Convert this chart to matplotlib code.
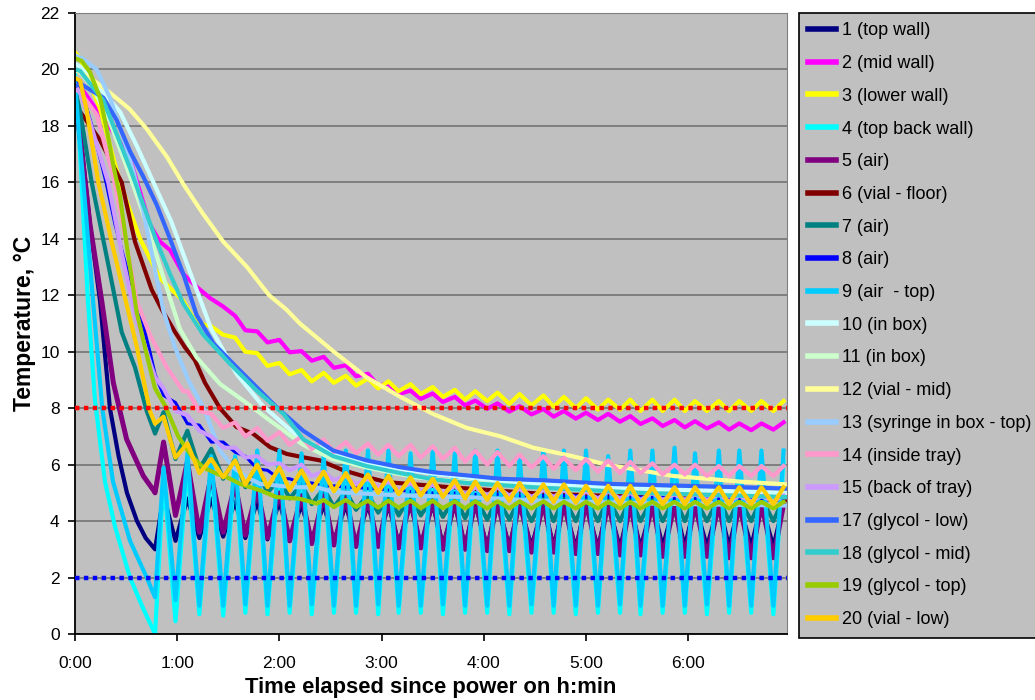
import matplotlib
matplotlib.use("Agg")
import matplotlib.pyplot as plt

plt.rcParams['font.family'] = ['Liberation Sans', 'DejaVu Sans']

# ==========================
# DATA (time in minutes, temperature in degC)
# ==========================

# times of the compressor cycle highs / lows, shared by the cycling probes
peak_t = [52, 66, 80, 94, 107, 120, 133, 146, 159, 172, 184, 197, 210, 223, 235,
          248, 261, 275, 287, 300, 313, 326, 339, 352, 364, 378, 390, 403, 416]
trough_t = [47, 59, 73, 87, 100, 113, 126, 139, 152, 165, 178, 190, 203, 216, 229,
            242, 255, 268, 281, 294, 307, 320, 332, 345, 358, 371, 384, 397, 410]

labels = ["1 (top wall)", "2 (mid wall)", "3 (lower wall)", "4 (top back wall)",
          "5 (air)", "6 (vial - floor)", "7 (air)", "8 (air)", "9 (air  - top)",
          "10 (in box)", "11 (in box)", "12 (vial - mid)", "13 (syringe in box - top)",
          "14 (inside tray)", "15 (back of tray)", "17 (glycol - low)",
          "18 (glycol - mid)", "19 (glycol - top)", "20 (vial - low)"]

colors = ["#000080", "#FF00FF", "#FFFF00", "#00FFFF", "#800080", "#800000",
          "#008080", "#0000FF", "#00CCFF", "#CCFFFF", "#CCFFCC", "#FFFF99",
          "#99CCFF", "#FF99CC", "#CC99FF", "#3366FF", "#33CCCC", "#99CC00",
          "#FFCC00"]

# 1 (top wall)
s1_t = [0, 3, 8.8, 14.7, 20.5, 25.6, 30.5, 36.4, 41.5, 47]
s1_v = [19.4, 17.8, 14.5, 11.8, 8.0, 6.3, 5.0, 4.0, 3.4, 3.0]
s1_pk = [4.9, 4.8, 4.8, 4.7, 4.7, 4.7, 4.6, 4.6, 4.6, 4.6, 4.6, 4.6, 4.6, 4.6, 4.6,
         4.6, 4.6, 4.6, 4.6, 4.6, 4.6, 4.6, 4.6, 4.6, 4.6, 4.6, 4.6, 4.6, 4.6]
s1_tr = [3.0, 3.3, 3.4, 3.45, 3.4, 3.35, 3.3, 3.3, 3.25, 3.2, 3.2, 3.2, 3.15, 3.15, 3.1,
         3.1, 3.1, 3.1, 3.1, 3.05, 3.05, 3.05, 3.05, 3.1, 3.1, 3.1, 3.1, 3.1, 3.1]

# 2 (mid wall)
s2_t = [0, 3, 10, 20, 32, 44, 49.9, 55.8, 63.6, 71.4, 79.3, 87]
s2_v = [19.6, 19.4, 18.8, 18.0, 16.9, 14.5, 13.9, 13.6, 12.75, 12.3, 11.9, 11.6]
s2_pk = [13.8, 12.4, 11.9, 11.27, 10.72, 10.42, 10.02, 9.82, 9.52, 9.22, 8.87, 8.62,
         8.52, 8.4, 8.27, 8.17, 8.07, 7.97, 7.9, 7.84, 7.8, 7.72, 7.64, 7.58, 7.54,
         7.5, 7.46, 7.46, 7.5]
s2_tr = [14.4, 13.2, 12.0, 11.5, 10.76, 10.33, 9.98, 9.68, 9.43, 9.13, 8.8, 8.5,
         8.33, 8.22, 8.1, 7.98, 7.88, 7.78, 7.7, 7.63, 7.58, 7.52, 7.44, 7.37, 7.32,
         7.28, 7.24, 7.22, 7.24]

# 3 (lower wall)
s3_t = [0, 3, 14.7, 26.4, 38.2, 49.9, 63.6, 69.4]
s3_v = [20.6, 20.4, 18.6, 16.0, 14.0, 12.6, 11.8, 11.2]
s3_pk = [12.4, 11.6, 10.9, 10.5, 9.95, 9.6, 9.35, 9.25, 9.15, 9.05, 8.95, 8.85, 8.75,
         8.65, 8.6, 8.55, 8.5, 8.45, 8.4, 8.35, 8.3, 8.3, 8.3, 8.3, 8.25, 8.25, 8.25,
         8.25, 8.25]
s3_tr = [12.9, 12.0, 11.0, 10.6, 10.0, 9.5, 9.2, 8.95, 8.9, 8.8, 8.7, 8.6, 8.5, 8.4,
         8.3, 8.25, 8.15, 8.1, 8.05, 8.0, 7.95, 7.95, 7.9, 7.9, 7.9, 7.9, 7.9, 7.9, 7.9]

# 4 (top back wall)
s4_t = [0, 3, 7.6, 11.7, 17.6, 23.5, 32.3, 39.3, 47]
s4_v = [19.8, 17.0, 11.8, 8.3, 5.4, 3.8, 2.0, 1.0, 0.0]
s4_pk = [5.6, 6.0, 5.9, 5.9, 6.1, 6.1, 6.0, 5.9, 6.1, 6.1, 6.1, 6.0, 6.1, 6.0, 6.1,
         6.1, 5.9, 6.1, 6.1, 6.1, 5.9, 6.1, 6.1, 6.2, 6.0, 6.1, 6.1, 6.1, 6.1]
s4_tr = [0.0, 0.45, 0.7, 0.65, 0.75, 0.7, 0.75, 0.7, 0.75, 0.75, 0.7, 0.75, 0.75, 0.7,
         0.75, 0.75, 0.7, 0.75, 0.75, 0.7, 0.75, 0.75, 0.7, 0.75, 0.75, 0.7, 0.75,
         0.75, 0.7]

# 5 (air)
s5_t = [0, 3, 8.8, 15.7, 22.5, 30.3, 40.1, 46]
s5_v = [19.0, 17.6, 14.5, 11.8, 8.9, 6.9, 5.6, 5.1]
s5_pk = [6.8, 6.1, 5.6, 5.3, 5.1, 5.0, 4.9, 4.9, 4.85, 4.8, 4.8, 4.75, 4.75, 4.7, 4.7,
         4.7, 4.7, 4.65, 4.65, 4.65, 4.65, 4.6, 4.6, 4.6, 4.6, 4.6, 4.6, 4.6, 4.6]
s5_tr = [5.0, 4.2, 3.6, 3.6, 3.5, 3.4, 3.3, 3.2, 3.15, 3.1, 3.1, 3.05, 3.05, 3.0, 3.0,
         2.95, 2.95, 2.9, 2.9, 2.85, 2.85, 2.8, 2.8, 2.75, 2.75, 2.75, 2.7, 2.7, 2.7]

# 6 (vial - floor)
s6_t = [0, 3, 14.7, 27.4, 35.2, 45, 50.9, 58.7, 64.6, 70.4, 76.3, 85.1, 94.9, 104.7,
        114.5, 124.3, 134, 143.8, 157.5, 171.2, 183, 220, 273, 337.5, 418]
s6_v = [18.6, 18.5, 17.5, 16.0, 13.9, 12.2, 11.5, 10.7, 10.15, 9.7, 8.9, 8.0, 7.33,
        7.09, 6.62, 6.38, 6.26, 6.15, 5.8, 5.56, 5.38, 5.2, 4.97, 4.85, 4.75]

# 7 (air)
s7_t = [0, 3, 9.8, 19.5, 27.4, 35.2, 42.1, 47]
s7_v = [19.3, 18.5, 16.0, 13.1, 10.7, 9.45, 7.9, 7.1]
s7_pk = [7.86, 7.2, 6.56, 6.2, 5.8, 5.5, 5.3, 5.15, 5.05, 4.95, 4.9, 4.9, 4.85, 4.85,
         4.85, 4.8, 4.8, 4.8, 4.8, 4.8, 4.8, 4.8, 4.8, 4.8, 4.8, 4.8, 4.8, 4.8, 4.8]
s7_tr = [7.1, 6.2, 5.85, 5.5, 5.2, 5.0, 4.8, 4.6, 4.5, 4.4, 4.3, 4.2, 4.2, 4.15, 4.1,
         4.05, 4.05, 4.0, 4.0, 4.0, 4.0, 4.0, 4.0, 4.0, 4.0, 4.0, 4.0, 4.0, 4.0]

# 8 (air)
s8_t = [0, 3, 10, 18.2, 23.5, 31.3, 37.2, 44]
s8_v = [19.6, 19.4, 18.0, 16.0, 14.5, 12.75, 11.6, 10.0]
s8_pk = [8.45, 7.45, 6.8, 6.44, 5.85, 5.5, 5.35, 5.25, 5.2, 5.15, 5.1, 5.05, 5.0, 5.0,
         4.95, 4.95, 4.9, 4.9, 4.9, 4.85, 4.85, 4.85, 4.85, 4.8, 4.8, 4.8, 4.8, 4.8, 4.8]
s8_tr = [9.2, 8.2, 7.4, 6.8, 6.3, 5.8, 5.5, 5.35, 5.25, 5.2, 5.15, 5.1, 5.05, 5.0, 5.0,
         4.95, 4.95, 4.9, 4.9, 4.9, 4.85, 4.85, 4.85, 4.85, 4.8, 4.8, 4.8, 4.8, 4.8]

# 9 (air - top)
s9_t = [0, 2, 4.9, 10.6, 16, 22.3, 32.3, 42.1]
s9_v = [19.5, 18.0, 16.0, 11.8, 8.0, 5.4, 3.3, 2.0]
s9_pk = [5.9, 6.4, 6.3, 6.3, 6.5, 6.5, 6.4, 6.3, 6.5, 6.5, 6.5, 6.4, 6.5, 6.4, 6.5,
         6.5, 6.3, 6.5, 6.5, 6.5, 6.3, 6.5, 6.5, 6.6, 6.4, 6.5, 6.5, 6.5, 6.5]
s9_tr = [1.3, 1.2, 1.0, 1.0, 1.05, 1.0, 1.0, 1.05, 1.0, 1.0, 1.05, 1.0, 1.0, 1.05, 1.0,
         1.0, 1.0, 1.05, 1.0, 1.0, 1.0, 1.05, 1.0, 1.0, 1.0, 1.05, 1.0, 1.0, 1.0]

# 10 (in box)
s10_t = [0, 3, 15, 26.4, 36.2, 46.8, 56.6, 66.4, 80, 95, 110, 125, 132, 151, 171, 191,
         210, 240, 270, 330, 418]
s10_v = [20.2, 20.1, 19.3, 18.5, 17.3, 15.9, 14.6, 13.0, 10.8, 9.2, 8.1, 7.3, 6.95,
         6.4, 6.05, 5.85, 5.68, 5.48, 5.33, 5.15, 5.0]

# 11 (in box)
s11_t = [0, 3, 10, 20, 30, 40, 50, 61.6, 71.4, 85.1, 98.8, 114.5, 134, 151, 171, 200,
         230, 270, 330, 418]
s11_v = [20.0, 19.9, 19.4, 18.2, 16.6, 14.9, 13.0, 10.8, 9.8, 8.86, 8.27, 7.56, 6.7,
         6.2, 5.9, 5.55, 5.38, 5.2, 5.0, 4.85]

# 12 (vial - mid)
s12_t = [0, 9, 20, 32, 42, 54, 64, 75, 87, 101, 114, 124, 132, 152, 171, 191, 210, 230,
         250, 269, 292, 312, 332, 351, 371, 390, 418]
s12_v = [20.0, 19.7, 19.2, 18.6, 17.9, 16.9, 15.9, 14.9, 13.9, 13.0, 12.0, 11.5, 11.0,
         10.0, 9.1, 8.4, 7.8, 7.3, 7.0, 6.6, 6.3, 6.0, 5.8, 5.6, 5.5, 5.4, 5.3]

# 13 (syringe in box - top)
s13_t = [0, 4, 12.7, 20.5, 28.4, 34.2, 40.1, 44, 48, 51.9, 58.7, 66.5, 76.3, 85.1,
         92.9, 100.8, 108.6, 128.1, 141.9, 151.6, 190.8, 229.9, 269, 340, 418]
s13_v = [20.5, 20.4, 20.0, 19.0, 17.6, 16.4, 15.0, 13.8, 12.6, 11.45, 10.15, 9.0, 7.9,
         6.5, 5.9, 5.56, 5.32, 5.2, 5.2, 5.03, 4.91, 4.85, 4.73, 4.62, 4.55]

# 14 (inside tray)
s14_t = [0, 3, 12.7, 22.5, 30.3, 36.2, 44, 53.8, 63.6]
s14_v = [19.3, 19.2, 18.4, 16.2, 13.8, 11.8, 10.6, 9.45, 8.6]
s14_pk = [9.8, 8.6, 7.8, 7.5, 7.3, 7.15, 7.0, 6.9, 6.8, 6.75, 6.7, 6.7, 6.65, 6.6, 6.5,
          6.45, 6.35, 6.3, 6.25, 6.2, 6.15, 6.1, 6.05, 6.0, 6.0, 5.95, 5.95, 5.95, 5.95]
s14_tr = [10.2, 9.0, 7.9, 7.3, 7.0, 6.85, 6.7, 6.55, 6.45, 6.4, 6.35, 6.3, 6.25, 6.2,
          6.1, 6.0, 5.95, 5.9, 5.85, 5.8, 5.75, 5.7, 5.7, 5.65, 5.65, 5.6, 5.6, 5.6, 5.6]

# 15 (back of tray)
s15_t = [0, 3, 8, 19.5, 27.4, 35.2, 45]
s15_v = [19.4, 19.2, 18.3, 16.0, 13.5, 11.3, 9.45]
s15_pk = [8.7, 7.75, 7.0, 6.6, 6.3, 6.05, 6.0, 5.75, 5.6, 5.5, 5.4, 5.35, 5.3, 5.25,
          5.2, 5.2, 5.15, 5.1, 5.1, 5.05, 5.05, 5.0, 5.0, 4.95, 4.95, 4.95, 4.9, 4.9, 4.9]
s15_tr = [9.1, 7.9, 7.2, 6.6, 6.25, 6.0, 5.8, 5.6, 5.45, 5.3, 5.2, 5.1, 5.05, 5.0, 4.95,
          4.9, 4.9, 4.85, 4.85, 4.8, 4.8, 4.8, 4.75, 4.75, 4.75, 4.75, 4.7, 4.7, 4.7]

# 17 (glycol - low)
s17_t = [0, 3, 16.6, 24.5, 32.3, 40.1, 48, 55.8, 63.6, 71.4, 81.2, 94.9, 106.7, 118.4,
         134, 151.6, 171.2, 190.8, 210.3, 229.9, 249.5, 276.9, 312.1, 351.2, 390.3, 418]
s17_v = [19.4, 19.5, 19.0, 18.2, 17.1, 16.2, 15.2, 14.0, 12.75, 11.3, 10.3, 9.45, 8.74,
         8.03, 7.2, 6.5, 6.15, 5.91, 5.73, 5.62, 5.5, 5.44, 5.32, 5.26, 5.2, 5.15]

# 18 (glycol - mid)
s18_t = [0, 3, 16.6, 24.5, 32.3, 40.1, 48, 55.8, 63.6, 75.3, 91, 106.7, 122.4, 134,
         151.6, 171.2, 190.8, 210.3, 229.9, 269, 331.6, 418]
s18_v = [20.0, 19.95, 18.9, 17.7, 16.5, 15.2, 13.9, 12.75, 11.7, 10.6, 9.57, 8.62, 7.8,
         6.9, 6.3, 5.95, 5.7, 5.48, 5.35, 5.2, 5.0, 4.85]

# 19 (glycol - top)
s19_t = [0, 4, 8.8, 14.7, 18.6, 22.5, 26.4, 30.3, 33.3, 36.2, 42.1, 47, 52.8, 60.6,
         68.5, 75.3, 83.2, 89, 96.9, 108.6, 118.4, 132.1, 141.9]
s19_v = [20.4, 20.3, 19.9, 19.0, 17.9, 16.6, 15.5, 13.8, 12.6, 11.4, 9.9, 8.7, 8.1, 7.0,
         6.3, 5.9, 5.68, 5.56, 5.32, 5.09, 4.85, 4.79, 4.62]
s19_pk = [8.1, 6.7, 5.8, 5.35, 5.15, 4.9, 4.8, 4.75, 4.75, 4.72, 4.72, 4.72, 4.72, 4.7,
          4.7, 4.7, 4.7, 4.7, 4.68, 4.68, 4.68, 4.68, 4.68, 4.68, 4.68, 4.68, 4.68,
          4.68, 4.68]
s19_tr = [8.5, 7.3, 6.0, 5.5, 5.2, 5.0, 4.85, 4.6, 4.5, 4.5, 4.48, 4.48, 4.46, 4.46,
          4.45, 4.45, 4.45, 4.45, 4.45, 4.45, 4.45, 4.45, 4.45, 4.45, 4.45, 4.45, 4.45,
          4.45, 4.45]

# 20 (vial - low)
s20_t = [0, 3, 6.7, 13.7, 21.5, 29.4, 36.2, 41.1, 44]
s20_v = [19.7, 19.6, 18.6, 16.0, 13.9, 11.9, 10.2, 8.74, 7.9]
s20_pk = [7.7, 6.75, 6.2, 6.15, 6.0, 5.9, 5.8, 5.75, 5.7, 5.65, 5.6, 5.55, 5.5, 5.45,
          5.4, 5.35, 5.35, 5.3, 5.3, 5.25, 5.25, 5.25, 5.2, 5.2, 5.2, 5.2, 5.2, 5.2, 5.2]
s20_tr = [7.45, 6.25, 5.7, 5.55, 5.3, 5.2, 5.1, 5.1, 5.05, 5.05, 5.0, 4.95, 4.9, 4.85,
          4.8, 4.75, 4.72, 4.7, 4.68, 4.65, 4.62, 4.6, 4.6, 4.6, 4.6, 4.6, 4.6, 4.6, 4.6]

series = [
    (s1_t, s1_v, s1_pk, s1_tr),
    (s2_t, s2_v, s2_pk, s2_tr),
    (s3_t, s3_v, s3_pk, s3_tr),
    (s4_t, s4_v, s4_pk, s4_tr),
    (s5_t, s5_v, s5_pk, s5_tr),
    (s6_t, s6_v, None, None),
    (s7_t, s7_v, s7_pk, s7_tr),
    (s8_t, s8_v, s8_pk, s8_tr),
    (s9_t, s9_v, s9_pk, s9_tr),
    (s10_t, s10_v, None, None),
    (s11_t, s11_v, None, None),
    (s12_t, s12_v, None, None),
    (s13_t, s13_v, None, None),
    (s14_t, s14_v, s14_pk, s14_tr),
    (s15_t, s15_v, s15_pk, s15_tr),
    (s17_t, s17_v, None, None),
    (s18_t, s18_v, None, None),
    (s19_t, s19_v, s19_pk, s19_tr),
    (s20_t, s20_v, s20_pk, s20_tr),
]

widths = [3.0, 3.0, 3.0, 3.0, 3.6, 3.0, 3.0, 2.2, 3.0, 3.0, 3.0, 3.0, 3.0, 3.0, 3.0,
          3.0, 3.0, 3.0, 3.0]


def build(kt, kv, pk, tr):
    t = list(kt)
    v = list(kv)
    if pk is not None:
        last = kt[-1]
        pts = [(a, b) for a, b in zip(peak_t, pk) if a > last]
        pts += [(a, b) for a, b in zip(trough_t, tr) if a > last]
        pts.sort()
        t += [p[0] for p in pts]
        v += [p[1] for p in pts]
    return t, v


# ==========================
# PLOT
# ==========================

fig = plt.figure(figsize=(10.35, 7.0), dpi=100)
ax = fig.add_axes([75 / 1035, 66 / 700, 712 / 1035, 621 / 700])
ax.set_facecolor("#C0C0C0")

handles = []
for (kt, kv, pk, tr), lab, col, lw in zip(series, labels, colors, widths):
    t, v = build(kt, kv, pk, tr)
    h, = ax.plot(t, v, color=col, lw=lw, label=lab, solid_joinstyle="round")
    handles.append(h)

ax.axhline(8, color="#FF0000", lw=3.2, linestyle=(0, (1, 1)), dash_capstyle="butt", zorder=5)
ax.axhline(2, color="#0000FF", lw=3.2, linestyle=(0, (1, 1)), dash_capstyle="butt", zorder=5)

ax.set_xlim(0, 418)
ax.set_ylim(0, 22)
ax.set_yticks(range(0, 23, 2))
ax.set_xticks([0, 60, 120, 180, 240, 300, 360])
ax.set_xticklabels(["0:00", "1:00", "2:00", "3:00", "4:00", "5:00", "6:00"])
ax.tick_params(labelsize=12.5, direction="out", length=5, width=1.2)
ax.tick_params(axis="x", pad=11)
ax.tick_params(axis="y", pad=6)

ax.yaxis.grid(True, color="#7a7a7a", lw=1.3)
ax.set_axisbelow(True)

ax.spines["left"].set_color("black")
ax.spines["bottom"].set_color("black")
ax.spines["left"].set_linewidth(1.3)
ax.spines["bottom"].set_linewidth(1.3)
ax.spines["top"].set_color("#808080")
ax.spines["right"].set_color("#808080")

ax.set_xlabel("Time elapsed since power on h:min", fontsize=15.8, fontweight="bold", labelpad=4)
ax.set_ylabel("Temperature, °C", fontsize=16.5, fontweight="bold", labelpad=3)

leg = fig.legend(handles=handles, loc="upper left",
                 bbox_to_anchor=(799 / 1035, 1 - 13 / 700),
                 bbox_transform=fig.transFigure, borderaxespad=0,
                 fontsize=13, frameon=True, fancybox=False, framealpha=1,
                 facecolor="#C0C0C0", edgecolor="black",
                 handlelength=1.55, handletextpad=0.3, labelspacing=0.87,
                 borderpad=0.52)
leg.get_frame().set_linewidth(1.2)
for line in leg.get_lines():
    line.set_linewidth(4)

fig.savefig("out.png", dpi=100)
